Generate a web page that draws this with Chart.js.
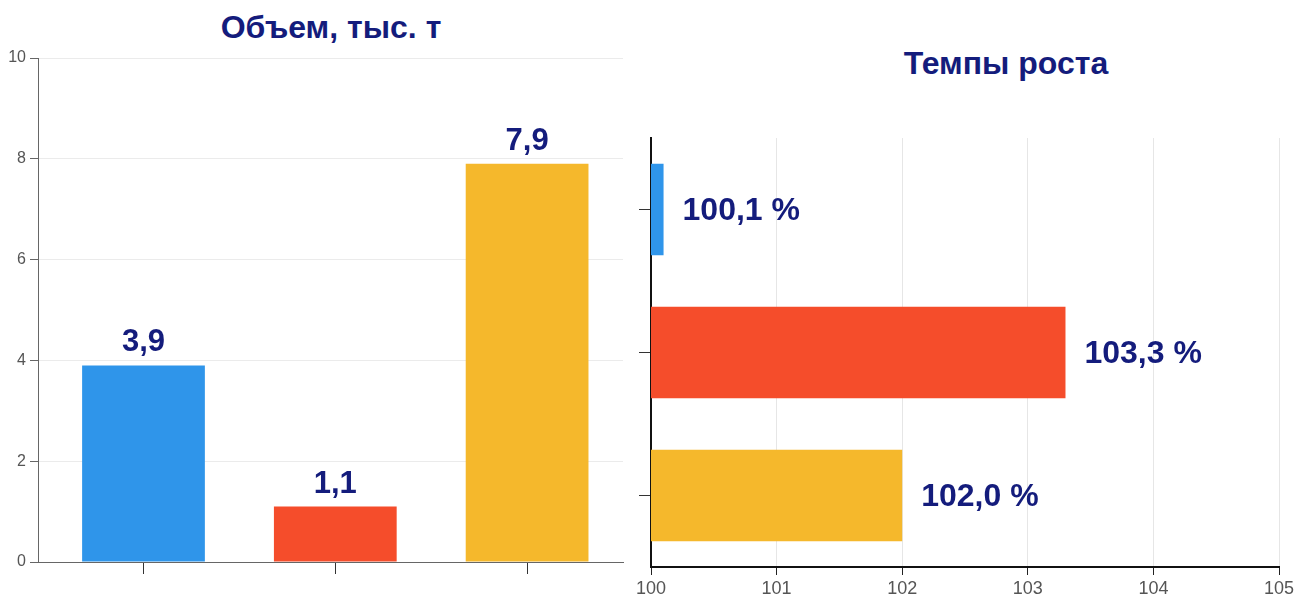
<!DOCTYPE html>
<html lang="ru">
<head>
<meta charset="utf-8">
<title>Объем и темпы роста</title>
<script src="https://cdn.jsdelivr.net/npm/chart.js@4.4.1/dist/chart.umd.min.js"></script>
<style>
  html, body { margin: 0; padding: 0; background: #fff; }
  body { width: 1298px; height: 599px; position: relative; overflow: hidden; }
  .box { position: absolute; top: 0; height: 599px; }
  #leftBox  { left: 0;     width: 650px; }
  #rightBox { left: 620px; width: 678px; }
  .ttl {
    position: absolute; font-family: "Liberation Sans", Arial, sans-serif;
    font-weight: bold; font-size: 32px; color: #141c7c; line-height: 1;
    transform: translate(-50%, -50%); white-space: nowrap;
  }
</style>
</head>
<body>
<div class="ttl" style="left:331px; top:27px;">Объем, тыс. т</div>
<div class="ttl" style="left:1006px; top:63px;">Темпы роста</div>
<div class="box" id="leftBox"><canvas id="volChart"></canvas></div>
<div class="box" id="rightBox"><canvas id="rateChart"></canvas></div>

<script>
/* ── Data ── */
const categories  = ['Категория 1', 'Категория 2', 'Категория 3'];
const volumes     = [3.9, 1.1, 7.9];        // тыс. т
const growthRates = [100.1, 103.3, 102.0];  // %
const volTicks    = [0, 2, 4, 6, 8, 10];
const rateTicks   = [100, 101, 102, 103, 104, 105];
const barColors   = ['#2f95ea', '#f54d2b', '#f5b82c'];

const NAVY = '#141c7c';
const fmt = (v, d) => v.toFixed(d).replace('.', ',');

/* ── Value labels plugin ── */
const valueLabels = {
  id: 'valueLabels',
  afterDatasetsDraw(chart, args, opts) {
    const { ctx } = chart;
    const meta = chart.getDatasetMeta(0);
    const data = chart.data.datasets[0].data;
    ctx.save();
    ctx.fillStyle = NAVY;
    ctx.font = 'bold ' + opts.size + 'px "Liberation Sans", Arial, sans-serif';
    meta.data.forEach((bar, i) => {
      const v = typeof data[i] === 'object' ? data[i].y : data[i];
      if (opts.horizontal) {
        ctx.textAlign = 'left';
        ctx.textBaseline = 'middle';
        ctx.fillText(fmt(v, 1) + ' %', bar.x + 19, bar.y + 2);
      } else {
        ctx.textAlign = 'center';
        ctx.textBaseline = 'alphabetic';
        ctx.fillText(fmt(v, 1), bar.x, bar.y - 14);
      }
    });
    ctx.restore();
  }
};

const tickFont = size => ({ family: '"Liberation Sans", Arial, sans-serif', size });

/* ── Volume chart (vertical bars) ── */
new Chart(document.getElementById('volChart'), {
  type: 'bar',
  data: {
    labels: categories,
    datasets: [{
      data: volumes.map((v, i) => ({ x: i, y: v })),
      backgroundColor: barColors, barPercentage: 0.64, categoryPercentage: 1
    }]
  },
  options: {
    responsive: true, maintainAspectRatio: false, animation: false,
    layout: { padding: { top: 58, right: 27, bottom: 25, left: 0 } },
    plugins: { legend: { display: false }, tooltip: { enabled: false }, valueLabels: { horizontal: false, size: 31 } },
    scales: {
      x: {
        type: 'linear', min: -0.55, max: 2.5, offset: false,
        afterBuildTicks: s => { s.ticks = categories.map((c, i) => ({ value: i })); },
        ticks: { display: false },
        grid: { drawOnChartArea: false, offset: false, tickLength: 12, tickColor: '#333' },
        border: { color: '#666', width: 1 },
        afterFit: s => { s.height = 12; }
      },
      y: {
        min: 0, max: 10,
        afterBuildTicks: s => { s.ticks = volTicks.map(v => ({ value: v })); },
        ticks: { color: '#555', font: tickFont(16), padding: 4 },
        grid: { color: '#ebebeb', tickLength: 8, tickColor: '#666' },
        border: { color: '#666', width: 1 },
        afterFit: s => { s.width = 38; }
      }
    }
  },
  plugins: [valueLabels]
});

/* ── Growth rate chart (horizontal bars) ── */
new Chart(document.getElementById('rateChart'), {
  type: 'bar',
  data: {
    labels: categories,
    datasets: [{ data: growthRates, backgroundColor: barColors, barPercentage: 0.64, categoryPercentage: 1 }]
  },
  options: {
    indexAxis: 'y',
    responsive: true, maintainAspectRatio: false, animation: false,
    layout: { padding: { top: 138, right: 19, bottom: 0, left: 0 } },
    plugins: { legend: { display: false }, tooltip: { enabled: false }, valueLabels: { horizontal: true, size: 32 } },
    scales: {
      x: {
        min: 100, max: 105,
        afterBuildTicks: s => { s.ticks = rateTicks.map(v => ({ value: v })); },
        ticks: { color: '#555', font: tickFont(18), padding: 3 },
        grid: { color: '#e6e6e6', tickLength: 8, tickColor: '#222' },
        border: { color: '#111', width: 2 },
        afterFit: s => { s.height = 32; }
      },
      y: {
        ticks: { display: false },
        grid: { drawOnChartArea: false, offset: false, tickLength: 12, tickColor: '#333' },
        border: { color: '#111', width: 2 },
        afterFit: s => { s.width = 31; }
      }
    }
  },
  plugins: [valueLabels]
});
</script>
</body>
</html>
